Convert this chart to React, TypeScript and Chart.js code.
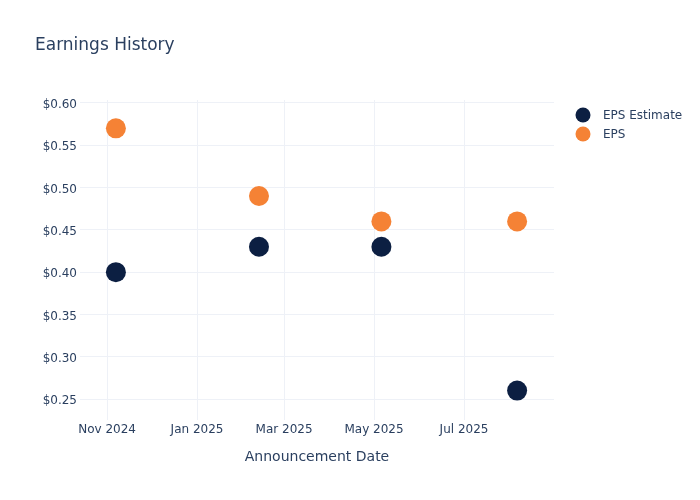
import React, { useEffect, useRef } from "react";
import { Chart, registerables } from "chart.js";

Chart.register(...registerables);

const announcementDates = ["2024-11-07", "2025-02-12", "2025-05-06", "2025-08-06"];
const epsEstimate = [0.4, 0.43, 0.43, 0.26];
const epsActual = [0.57, 0.49, 0.46, 0.46];
const xTickDates = ["2024-11-01", "2025-01-01", "2025-03-01", "2025-05-01", "2025-07-01"];
const xTickLabels = ["Nov 2024", "Jan 2025", "Mar 2025", "May 2025", "Jul 2025"];
const yTickValues = [0.25, 0.3, 0.35, 0.4, 0.45, 0.5, 0.55, 0.6];
const xRange = ["2024-10-13T16:00:00Z", "2025-08-31T00:00:00Z"];
const yRange = [0.2252, 0.6035];

const FONT = "'DejaVu Sans', sans-serif";
const TEXT = "#2a3f5f";
const GRID = "#eef1f7";

const ts = (d: string) => new Date(d.length === 10 ? d + "T00:00:00Z" : d).getTime();

export default function App() {
  const ref = useRef<HTMLCanvasElement>(null);
  useEffect(() => {
    const overlay = {
      id: "overlay",
      afterDraw(chart: any) {
        const ctx = chart.ctx;
        ctx.save();
        ctx.fillStyle = TEXT;
        ctx.font = `17px ${FONT}`;
        ctx.textAlign = "left";
        ctx.textBaseline = "middle";
        ctx.fillText("Earnings History", 35, 46);
        ctx.font = `12px ${FONT}`;
        chart.data.datasets.forEach((ds: any, i: number) => {
          const y = 115 + i * 19;
          ctx.beginPath();
          ctx.fillStyle = ds.backgroundColor;
          ctx.arc(583, y, 7.5, 0, Math.PI * 2);
          ctx.fill();
          ctx.fillStyle = TEXT;
          ctx.fillText(ds.label, 603, y + 1);
        });
        ctx.restore();
      },
    };
    const chart = new Chart(ref.current!, {
      type: "scatter",
      data: {
        datasets: [
          {
            label: "EPS Estimate",
            data: announcementDates.map((d, i) => ({ x: ts(d), y: epsEstimate[i] })),
            backgroundColor: "#0c1f42",
            borderColor: "#0c1f42",
            pointRadius: 10,
            pointBorderWidth: 0,
          },
          {
            label: "EPS",
            data: announcementDates.map((d, i) => ({ x: ts(d), y: epsActual[i] })),
            backgroundColor: "#f58235",
            borderColor: "#f58235",
            pointRadius: 10,
            pointBorderWidth: 0,
          },
        ],
      },
      options: {
        animation: false,
        responsive: false,
        layout: { padding: { left: 0, top: 100, right: 146, bottom: 34 } },
        plugins: { legend: { display: false }, tooltip: { enabled: false } },
        scales: {
          x: {
            type: "linear",
            min: ts(xRange[0]),
            max: ts(xRange[1]),
            afterBuildTicks: (s: any) => {
              s.ticks = xTickDates.map((d) => ({ value: ts(d) }));
            },
            afterFit: (s: any) => {
              s.height = 46;
            },
            ticks: {
              callback: (v: any) => {
                const i = xTickDates.findIndex((d) => ts(d) === v);
                return i >= 0 ? xTickLabels[i] : "";
              },
              color: TEXT,
              font: { family: FONT, size: 12 },
              padding: 3,
              maxRotation: 0,
              autoSkip: false,
            },
            grid: { color: GRID, drawTicks: false },
            border: { display: false },
            title: {
              display: true,
              text: "Announcement Date",
              color: TEXT,
              font: { family: FONT, size: 14 },
              padding: { top: 12, bottom: 0 },
            },
          },
          y: {
            min: yRange[0],
            max: yRange[1],
            afterBuildTicks: (s: any) => {
              s.ticks = yTickValues.map((v) => ({ value: v }));
            },
            afterFit: (s: any) => {
              s.width = 80;
            },
            ticks: {
              callback: (v: any) => "$" + Number(v).toFixed(2),
              color: TEXT,
              font: { family: FONT, size: 12 },
              padding: 3,
              labelOffset: 2,
            },
            grid: { color: GRID, drawTicks: false },
            border: { display: false },
          },
        },
      },
      plugins: [overlay],
    });
    return () => chart.destroy();
  }, []);
  return (
    <div style={{ position: "fixed", left: 0, top: 0, width: 700, height: 500, background: "#fff" }}>
      <canvas ref={ref} width={700} height={500} style={{ width: 700, height: 500 }} />
    </div>
  );
}
